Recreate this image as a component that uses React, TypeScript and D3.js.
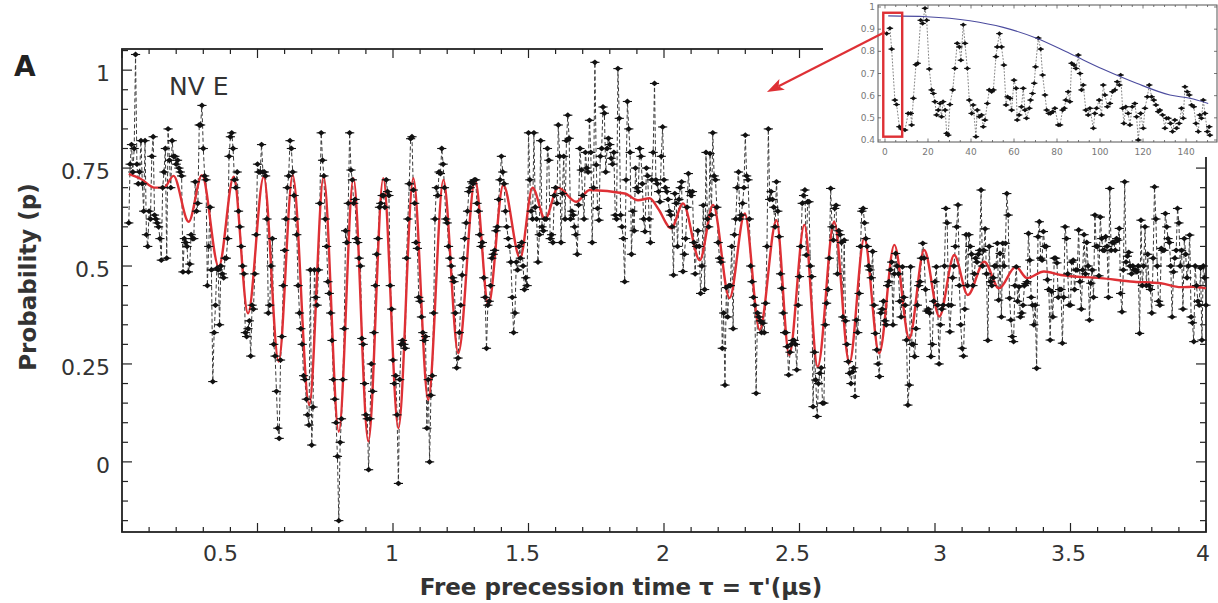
import React from "react";
import * as d3 from "d3";

const W = 1218;
const H = 603;

// Measured probability, one row per 0.05 µs (first row starts at 0.025 µs), sampled every 0.005 µs
const probabilityRows: number[][] = [
  [0.61, 0.76, 0.81, 0.74, 0.80],
  [1.04, 0.76, 0.71, 0.74, 0.82, 0.71, 0.64, 0.82, 0.58, 0.55],
  [0.64, 0.62, 0.78, 0.83, 0.63, 0.62, 0.61, 0.60, 0.57, 0.515],
  [0.70, 0.74, 0.80, 0.52, 0.85, 0.77, 0.70, 0.82, 0.78, 0.78],
  [0.76, 0.77, 0.75, 0.74, 0.73, 0.485, 0.57, 0.56, 0.55, 0.485],
  [0.505, 0.58, 0.57, 0.57, 0.715, 0.64, 0.66, 0.86, 0.86, 0.91],
  [0.80, 0.73, 0.72, 0.45, 0.55, 0.65, 0.49, 0.205, 0.33, 0.40],
  [0.494, 0.49, 0.35, 0.50, 0.48, 0.47, 0.52, 0.52, 0.57, 0.78],
  [0.83, 0.84, 0.80, 0.72, 0.70, 0.74, 0.64, 0.60, 0.55, 0.50],
  [0.48, 0.33, 0.32, 0.34, 0.36, 0.27, 0.40, 0.39, 0.48, 0.58],
  [0.76, 0.74, 0.74, 0.81, 0.74, 0.74, 0.73, 0.62, 0.38, 0.40],
  [0.50, 0.57, 0.30, 0.27, 0.18, 0.086, 0.06, 0.26, 0.32, 0.45],
  [0.54, 0.62, 0.70, 0.73, 0.82, 0.80, 0.74, 0.68, 0.62, 0.58],
  [0.45, 0.38, 0.34, 0.30, 0.22, 0.21, 0.16, 0.12, 0.094, 0.49],
  [0.043, 0.14, 0.49, 0.42, 0.40, 0.49, 0.66, 0.84, 0.77, 0.73],
  [0.62, 0.55, 0.46, 0.43, 0.38, 0.31, 0.21, 0.16, 0.10, 0.014],
  [-0.15, 0.05, 0.11, 0.21, 0.34, 0.59, 0.56, 0.66, 0.84, 0.745],
  [0.72, 0.66, 0.67, 0.57, 0.56, 0.52, 0.50, 0.315, 0.30, 0.20],
  [0.12, 0.11, -0.02, 0.11, 0.25, 0.18, 0.33, 0.45, 0.53, 0.57],
  [0.65, 0.66, 0.68, 0.68, 0.65, 0.72, 0.69, 0.68, 0.45, 0.39],
  [0.26, 0.20, 0.22, 0.12, -0.055, 0.21, 0.30, 0.31, 0.30, 0.29],
  [0.52, 0.62, 0.71, 0.825, 0.83, 0.694, 0.66, 0.56, 0.545, 0.42],
  [0.41, 0.37, 0.33, 0.31, 0.32, 0.086, 0.21, 0.00, 0.17, 0.22],
  [0.38, 0.62, 0.70, 0.68, 0.74, 0.736, 0.80, 0.76, 0.70, 0.62],
  [0.61, 0.55, 0.52, 0.50, 0.47, 0.46, 0.38, 0.24, 0.265, 0.33],
  [0.40, 0.477, 0.52, 0.57, 0.61, 0.64, 0.69, 0.70, 0.715, 0.71],
  [0.72, 0.72, 0.66, 0.64, 0.58, 0.55, 0.56, 0.47, 0.42, 0.29],
  [0.40, 0.41, 0.45, 0.52, 0.53, 0.54, 0.59, 0.60, 0.67, 0.72],
  [0.78, 0.74, 0.71, 0.64, 0.60, 0.57, 0.55, 0.51, 0.42, 0.33],
  [0.38, 0.51, 0.49, 0.55, 0.52, 0.56, 0.50, 0.44, 0.47, 0.45],
  [0.84, 0.72, 0.64, 0.62, 0.84, 0.65, 0.62, 0.51, 0.58, 0.82],
  [0.60, 0.59, 0.62, 0.62, 0.80, 0.77, 0.57, 0.58, 0.56, 0.68],
  [0.70, 0.66, 0.86, 0.78, 0.56, 0.685, 0.78, 0.62, 0.82, 0.885],
  [0.826, 0.62, 0.64, 0.63, 0.60, 0.58, 0.53, 0.656, 0.80, 0.745],
  [0.68, 0.62, 0.79, 0.75, 0.74, 0.872, 0.79, 0.56, 0.70, 1.02],
  [0.758, 0.647, 0.617, 0.78, 0.80, 0.906, 0.89, 0.74, 0.80, 0.826],
  [0.81, 0.775, 0.76, 0.79, 0.63, 0.62, 1.004, 0.877, 0.63, 0.60],
  [0.57, 0.46, 0.72, 0.92, 0.85, 0.79, 0.53, 0.64, 0.59, 0.75],
  [0.70, 0.69, 0.80, 0.78, 0.71, 0.62, 0.588, 0.75, 0.73, 0.62],
  [0.56, 0.72, 0.79, 0.966, 0.72, 0.71, 0.69, 0.664, 0.78, 0.855],
  [0.72, 0.70, 0.69, 0.67, 0.64, 0.63, 0.60, 0.477, 0.685, 0.66],
  [0.55, 0.67, 0.70, 0.715, 0.486, 0.53, 0.57, 0.65, 0.736, 0.69],
  [0.68, 0.69, 0.56, 0.48, 0.55, 0.59, 0.55, 0.43, 0.50, 0.655],
  [0.44, 0.79, 0.62, 0.60, 0.787, 0.63, 0.84, 0.73, 0.72, 0.65],
  [0.56, 0.52, 0.51, 0.29, 0.38, 0.196, 0.445, 0.37, 0.45, 0.45],
  [0.55, 0.34, 0.58, 0.62, 0.70, 0.74, 0.62, 0.63, 0.66, 0.70],
  [0.834, 0.73, 0.72, 0.62, 0.50, 0.46, 0.42, 0.40, 0.175, 0.38],
  [0.37, 0.36, 0.33, 0.354, 0.33, 0.405, 0.55, 0.85, 0.67, 0.69],
  [0.67, 0.65, 0.60, 0.715, 0.64, 0.575, 0.48, 0.443, 0.38, 0.33],
  [0.33, 0.294, 0.222, 0.28, 0.30, 0.31, 0.31, 0.30, 0.235, 0.40],
  [0.473, 0.55, 0.66, 0.68, 0.694, 0.528, 0.664, 0.664, 0.50, 0.473],
  [0.141, 0.28, 0.209, 0.116, 0.20, 0.226, 0.24, 0.15, 0.15, 0.35],
  [0.405, 0.44, 0.52, 0.698, 0.60, 0.566, 0.647, 0.655, 0.48, 0.59],
  [0.58, 0.56, 0.37, 0.566, 0.36, 0.30, 0.256, 0.226, 0.20, 0.23],
  [0.24, 0.167, 0.362, 0.33, 0.43, 0.55, 0.64, 0.647, 0.61, 0.57],
  [0.55, 0.50, 0.49, 0.47, 0.537, 0.40, 0.328, 0.286, 0.25, 0.218],
  [0.38, 0.39, 0.41, 0.36, 0.35, 0.45, 0.46, 0.49, 0.51, 0.35],
  [0.48, 0.532, 0.50, 0.48, 0.41, 0.37, 0.498, 0.42, 0.40, 0.311],
  [0.145, 0.196, 0.498, 0.30, 0.30, 0.269, 0.34, 0.40, 0.45, 0.46],
  [0.52, 0.558, 0.52, 0.44, 0.385, 0.39, 0.38, 0.269, 0.30, 0.41],
  [0.46, 0.498, 0.40, 0.25, 0.35, 0.39, 0.40, 0.50, 0.647, 0.61],
  [0.40, 0.332, 0.40, 0.47, 0.50, 0.55, 0.60, 0.656, 0.45, 0.35],
  [0.29, 0.27, 0.39, 0.58, 0.45, 0.58, 0.55, 0.53, 0.45, 0.48],
  [0.52, 0.51, 0.53, 0.54, 0.694, 0.50, 0.54, 0.595, 0.48, 0.31],
  [0.55, 0.46, 0.45, 0.47, 0.50, 0.50, 0.558, 0.413, 0.532, 0.37],
  [0.558, 0.50, 0.558, 0.685, 0.63, 0.418, 0.362, 0.32, 0.307, 0.45],
  [0.498, 0.41, 0.447, 0.37, 0.38, 0.40, 0.45, 0.455, 0.46, 0.583],
  [0.515, 0.42, 0.40, 0.35, 0.40, 0.239, 0.575, 0.613, 0.52, 0.515],
  [0.588, 0.55, 0.55, 0.465, 0.44, 0.311, 0.435, 0.37, 0.52, 0.52],
  [0.508, 0.42, 0.44, 0.44, 0.303, 0.42, 0.60, 0.57, 0.48, 0.40],
  [0.40, 0.51, 0.515, 0.44, 0.49, 0.49, 0.592, 0.46, 0.39, 0.49],
  [0.58, 0.48, 0.56, 0.50, 0.362, 0.456, 0.49, 0.42, 0.63, 0.55],
  [0.55, 0.475, 0.625, 0.57, 0.54, 0.54, 0.575, 0.55, 0.42, 0.698],
  [0.54, 0.56, 0.56, 0.54, 0.57, 0.566, 0.596, 0.43, 0.383, 0.49],
  [0.715, 0.51, 0.525, 0.535, 0.50, 0.48, 0.50, 0.49, 0.49, 0.485],
  [0.50, 0.328, 0.617, 0.45, 0.50, 0.60, 0.45, 0.53, 0.45, 0.44],
  [0.38, 0.52, 0.702, 0.62, 0.50, 0.41, 0.40, 0.545, 0.54, 0.54],
  [0.634, 0.60, 0.57, 0.56, 0.50, 0.37, 0.485, 0.52, 0.54, 0.647],
  [0.61, 0.50, 0.54, 0.39, 0.57, 0.53, 0.47, 0.50, 0.579, 0.37],
  [0.355, 0.307, 0.50, 0.45, 0.41, 0.40, 0.495, 0.311, 0.50, 0.47],
  [0.40],
];
const FIRST_ROW_START = 0.025;
const ROW_SPAN = 0.05;
const SAMPLE_STEP = 0.005;

// Red fit curve: turning points (µs, p)
const fitTime = [0.025, 0.07, 0.12, 0.155, 0.19, 0.246, 0.295, 0.357, 0.412, 0.465, 0.523, 0.578, 0.63, 0.691, 0.744, 0.8, 0.854, 0.909, 0.964, 1.02, 1.075, 1.13, 1.186, 1.241, 1.303, 1.352, 1.407, 1.469, 1.515, 1.561, 1.609, 1.676, 1.726, 1.855, 1.904, 1.947, 1.978, 2.027, 2.07, 2.132, 2.181, 2.242, 2.298, 2.353, 2.415, 2.462, 2.518, 2.567, 2.628, 2.684, 2.739, 2.794, 2.85, 2.905, 2.96, 3.016, 3.071, 3.121, 3.182, 3.236, 3.298, 3.34, 3.402, 3.464, 3.611, 3.734, 3.833, 3.907, 3.955, 4.0];
const fitProb = [0.735, 0.722, 0.70, 0.70, 0.73, 0.613, 0.732, 0.498, 0.728, 0.379, 0.728, 0.256, 0.732, 0.145, 0.728, 0.077, 0.724, 0.052, 0.724, 0.086, 0.724, 0.158, 0.72, 0.277, 0.72, 0.40, 0.707, 0.52, 0.70, 0.62, 0.70, 0.664, 0.694, 0.685, 0.668, 0.673, 0.647, 0.596, 0.66, 0.515, 0.656, 0.418, 0.634, 0.337, 0.617, 0.273, 0.605, 0.243, 0.613, 0.252, 0.571, 0.277, 0.554, 0.315, 0.541, 0.371, 0.528, 0.426, 0.511, 0.443, 0.498, 0.469, 0.486, 0.477, 0.469, 0.46, 0.456, 0.446, 0.447, 0.443];

// Inset: long-time data
const insetTime = [0.8, 2.3, 3.1, 4.6, 5.4, 6.7, 7.7, 9.3, 10.8, 12, 12.4, 13.2, 14.4, 15.2, 16.6, 17.5, 18.6, 19.4, 20.6, 21.7, 22.5, 23.2, 24, 24.8, 25.6, 26.3, 27, 28, 28.7, 29.4, 30.2, 31.5, 32.5, 33.6, 34.6, 35.3, 36.4, 37.2, 38.3, 39.2, 40.3, 41, 42.3, 42.9, 43.9, 44.9, 45.7, 46.5, 47.6, 48.5, 49.6, 50.4, 51.6, 52.2, 53.2, 54.2, 55.3, 56.3, 57, 58.1, 58.9, 60, 61, 61.5, 62.4, 63.5, 64.3, 65.1, 65.8, 67.1, 67.7, 68.6, 69.4, 70, 71.3, 72.4, 73.3, 74.4, 75.2, 76.2, 77, 78, 79, 80.6, 81.4, 82.6, 83.4, 84.1, 85.2, 86, 86.8, 87.9, 88.8, 89.9, 90.7, 91.4, 92.2, 93.4, 94.5, 95.3, 96.9, 97.6, 98.4, 99.6, 100.7, 101.5, 102.3, 103.4, 104.6, 105.8, 106.9, 108, 109, 109.6, 110.5, 111.1, 112, 113.1, 113.9, 115, 116.2, 117, 117.8, 118.9, 120.1, 120.9, 122, 122.9, 124, 125, 126, 127.1, 127.8, 129.1, 130.2, 130.9, 131.8, 132.8, 133.7, 134.8, 135.6, 136.8, 137.9, 138.7, 139.5, 140.6, 141.5, 142.6, 143.6, 144.6, 145.7, 146.4, 147.2, 148, 148.8, 149.9, 150.8, 151.1];
const insetProb = [0.88, 0.904, 0.81, 0.58, 0.56, 0.46, 0.45, 0.445, 0.52, 0.52, 0.468, 0.588, 0.74, 0.746, 0.94, 0.926, 0.994, 0.94, 0.72, 0.626, 0.61, 0.573, 0.513, 0.535, 0.565, 0.505, 0.573, 0.535, 0.43, 0.422, 0.56, 0.626, 0.723, 0.836, 0.82, 0.76, 0.92, 0.836, 0.723, 0.58, 0.52, 0.558, 0.415, 0.535, 0.505, 0.513, 0.46, 0.49, 0.565, 0.626, 0.618, 0.626, 0.776, 0.82, 0.88, 0.82, 0.738, 0.558, 0.595, 0.588, 0.535, 0.67, 0.633, 0.49, 0.513, 0.55, 0.633, 0.535, 0.498, 0.543, 0.58, 0.61, 0.656, 0.73, 0.86, 0.81, 0.693, 0.603, 0.535, 0.52, 0.52, 0.528, 0.543, 0.468, 0.468, 0.535, 0.543, 0.58, 0.618, 0.573, 0.746, 0.738, 0.723, 0.783, 0.7, 0.626, 0.648, 0.535, 0.513, 0.543, 0.453, 0.52, 0.543, 0.58, 0.513, 0.648, 0.603, 0.55, 0.565, 0.618, 0.626, 0.663, 0.648, 0.693, 0.543, 0.475, 0.55, 0.52, 0.468, 0.55, 0.565, 0.505, 0.4, 0.52, 0.453, 0.543, 0.595, 0.648, 0.595, 0.58, 0.558, 0.528, 0.535, 0.513, 0.453, 0.498, 0.498, 0.475, 0.438, 0.49, 0.453, 0.475, 0.543, 0.498, 0.64, 0.618, 0.603, 0.558, 0.55, 0.475, 0.438, 0.513, 0.498, 0.58, 0.52, 0.438, 0.46, 0.422];

// Inset envelope (blue)
const envTime = [1.5, 19.4, 39.5, 55, 70.5, 86, 101.5, 117, 132.5, 141.8, 150.3];
const envProb = [0.96, 0.956, 0.938, 0.908, 0.859, 0.79, 0.719, 0.656, 0.603, 0.588, 0.565];

// Axis labels
const xTickValues = [0.5, 1, 1.5, 2, 2.5, 3, 3.5, 4];
const xTickLabels = ["0.5", "1", "1.5", "2", "2.5", "3", "3.5", "4"];
const yTickValues = [0, 0.25, 0.5, 0.75, 1];
const yTickLabels = ["0", "0.25", "0.5", "0.75", "1"];
const insetXTicks = [0, 20, 40, 60, 80, 100, 120, 140];
const insetYTicks = [0.4, 0.5, 0.6, 0.7, 0.8, 0.9, 1];
const insetYLabels = ["0.4", "0.5", "0.6", "0.7", "0.8", "0.9", "1"];

// Layout / style (not data)
const xLabelNudge = [-37, -1, -6, -1, -7, 5, -2, -3];
const FONT = "DejaVu Sans, Verdana, sans-serif";
const RED = "#de3035";

const x = d3.scaleLinear().domain([0, 4]).range([122, 1206]);
const y = d3.scaleLinear().domain([-0.179, 1.054]).range([532, 49]);
const ix = d3.scaleLinear().domain([-3.25, 154.4]).range([878, 1217]);
const iy = d3.scaleLinear().domain([0.391, 1.009]).range([142, 5]);

// Box in inset (0 – 8 region) and arrow endpoints in data coordinates
const boxU = [-0.8, 8.0];
const boxP = [0.415, 0.974];
const arrowFromInset = { u: 0, p: 0.887 };
const arrowToMain = { t: 2.38, p: 0.944 };

function Marker({ cx, cy, w, h, bar }: { cx: number; cy: number; w: number; h: number; bar: number }) {
  return (
    <g>
      <line x1={cx - bar} x2={cx + bar} y1={cy} y2={cy} stroke="#111" strokeWidth={1.1} />
      <path d={`M${cx},${cy - h}L${cx + w},${cy}L${cx},${cy + h}L${cx - w},${cy}Z`} fill="#111" />
    </g>
  );
}

export default function App() {
  const points = probabilityRows.flatMap((row, i) =>
    row.map((p, j) => ({ t: (i === 0 ? FIRST_ROW_START : i * ROW_SPAN) + j * SAMPLE_STEP, p }))
  );
  const dataLine = d3
    .line<{ t: number; p: number }>()
    .x((d) => x(d.t))
    .y((d) => y(d.p))(points) as string;

  const fitPts = fitTime.map((t, i) => [t, fitProb[i]] as [number, number]);
  const fitLine = d3
    .line<[number, number]>()
    .x((d) => x(d[0]))
    .y((d) => y(d[1]))
    .curve(d3.curveMonotoneX)(fitPts) as string;

  const insetPts = insetTime.map((u, i) => [u, insetProb[i]] as [number, number]);
  const insetLine = d3
    .line<[number, number]>()
    .x((d) => ix(d[0]))
    .y((d) => iy(d[1]))(insetPts) as string;
  const envPts = envTime.map((u, i) => [u, envProb[i]] as [number, number]);
  const envLine = d3
    .line<[number, number]>()
    .x((d) => ix(d[0]))
    .y((d) => iy(d[1]))
    .curve(d3.curveMonotoneX)(envPts) as string;

  const xMinor = x.ticks(40);
  const yMinor = d3.range(-0.15, 1.0501, 0.05);
  const L = 122, R = 1206, T = 49, B = 532;

  // arrow geometry
  const ax0 = ix(arrowFromInset.u), ay0 = iy(arrowFromInset.p);
  const ax1 = x(arrowToMain.t), ay1 = y(arrowToMain.p);
  const dx = ax1 - ax0, dy = ay1 - ay0;
  const len = Math.hypot(dx, dy);
  const ux = dx / len, uy = dy / len;
  const headL = 17, headW = 6;
  const bx = ax1 - ux * headL, by = ay1 - uy * headL;
  const head = `M${ax1},${ay1}L${bx - uy * headW},${by + ux * headW}L${bx + ux * 4},${by + uy * 4}L${bx + uy * headW},${by - ux * headW}Z`;

  const insetL = ix.range()[0], insetR = ix.range()[1];
  const insetT = iy.range()[1], insetB = iy.range()[0];

  return (
    <svg width={W} height={H} style={{ position: "absolute", left: 0, top: 0, background: "#fff" }}>
      <rect x={0} y={0} width={W} height={H} fill="#fff" />

      {/* ticks */}
      {xMinor.map((v, i) => {
        const major = Math.abs(v * 2 - Math.round(v * 2)) < 1e-6;
        const l = major ? 9 : 5;
        return (
          <g key={"xt" + i}>
            <line x1={x(v)} x2={x(v)} y1={B} y2={B - l} stroke="#222" strokeWidth={1.2} />
            <line x1={x(v)} x2={x(v)} y1={T} y2={T + l} stroke="#222" strokeWidth={1.2} />
          </g>
        );
      })}
      {yMinor.map((v, i) => {
        const major = Math.abs(v * 4 - Math.round(v * 4)) < 1e-6;
        const l = major ? 10 : 6;
        return (
          <g key={"yt" + i}>
            <line x1={L} x2={L + l} y1={y(v)} y2={y(v)} stroke="#222" strokeWidth={1.2} />
            <line x1={R} x2={R - l} y1={y(v)} y2={y(v)} stroke="#222" strokeWidth={1.2} />
          </g>
        );
      })}
      <rect x={L} y={T} width={R - L} height={B - T} fill="none" stroke="#222" strokeWidth={1.8} />

      {/* tick labels */}
      {xTickValues.map((v, i) => (
        <text key={"xl" + i} x={x(v) + xLabelNudge[i]} y={561} textAnchor="middle" fontFamily={FONT} fontSize={22} fill="#333">
          {xTickLabels[i]}
        </text>
      ))}
      {yTickValues.map((v, i) => (
        <text key={"yl" + i} x={110} y={y(v) + 11} textAnchor="end" fontFamily={FONT} fontSize={22} fill="#333">
          {yTickLabels[i]}
        </text>
      ))}

      {/* data */}
      <path d={dataLine} fill="none" stroke="#3a3a3a" strokeWidth={1} strokeDasharray="4,2.5" />
      <path d={fitLine} fill="none" stroke={RED} strokeWidth={2.4} />
      {points.map((d, i) => (
        <Marker key={"m" + i} cx={x(d.t)} cy={y(d.p)} w={3.3} h={2.9} bar={4.6} />
      ))}

      {/* labels */}
      <text x={14} y={76} fontFamily={FONT} fontWeight="bold" fontSize={28} fill="#222">A</text>
      <text x={169} y={95} fontFamily={FONT} fontSize={25} fill="#333">NV E</text>
      <text transform="translate(36,277) rotate(-90)" textAnchor="middle" fontFamily={FONT} fontWeight="bold" fontSize={23} fill="#333">
        Probability (p)
      </text>
      <text x={621} y={595} textAnchor="middle" fontFamily={FONT} fontWeight="bold" fontSize={23} fill="#333">
        {"Free precession time  \u03c4 = \u03c4'(\u03bcs)"}
      </text>

      {/* inset */}
      <rect x={823} y={0} width={W - 823} height={157} fill="#fff" />
      <path d={insetLine} fill="none" stroke="#666" strokeWidth={0.8} strokeDasharray="1.8,1.5" />
      {insetPts.map((d, i) => (
        <Marker key={"im" + i} cx={ix(d[0])} cy={iy(d[1])} w={2.5} h={2.3} bar={3.2} />
      ))}
      <path d={envLine} fill="none" stroke="#4b4b9e" strokeWidth={1.1} />
      <rect x={insetL} y={insetT} width={insetR - insetL} height={insetB - insetT} fill="none" stroke="#555" strokeWidth={1} />
      {d3.range(0, 151, 5).map((v) => {
        const l = v % 20 === 0 ? 3.5 : 2;
        return (
          <g key={"ixt" + v}>
            <line x1={ix(v)} x2={ix(v)} y1={insetB} y2={insetB - l} stroke="#555" strokeWidth={0.8} />
            <line x1={ix(v)} x2={ix(v)} y1={insetT} y2={insetT + l} stroke="#555" strokeWidth={0.8} />
          </g>
        );
      })}
      {insetYTicks.map((v) => (
        <g key={"iyt" + v}>
          <line x1={insetL} x2={insetL + 3} y1={iy(v)} y2={iy(v)} stroke="#555" strokeWidth={0.8} />
          <line x1={insetR} x2={insetR - 3} y1={iy(v)} y2={iy(v)} stroke="#555" strokeWidth={0.8} />
        </g>
      ))}
      {insetXTicks.map((v) => (
        <text key={"ixl" + v} x={ix(v)} y={155} textAnchor="middle" fontFamily={FONT} fontSize={9} fill="#777">
          {v}
        </text>
      ))}
      {insetYTicks.map((v, i) => (
        <text key={"iyl" + v} x={insetL - 3} y={iy(v) + 3} textAnchor="end" fontFamily={FONT} fontSize={9} fill="#777">
          {insetYLabels[i]}
        </text>
      ))}
      <rect x={ix(boxU[0])} y={iy(boxP[1])} width={ix(boxU[1]) - ix(boxU[0])} height={iy(boxP[0]) - iy(boxP[1])} fill="none" stroke={RED} strokeWidth={2.4} />

      {/* arrow */}
      <line x1={ax0} y1={ay0} x2={bx + ux * 4} y2={by + uy * 4} stroke={RED} strokeWidth={2.2} />
      <path d={head} fill={RED} />
    </svg>
  );
}
